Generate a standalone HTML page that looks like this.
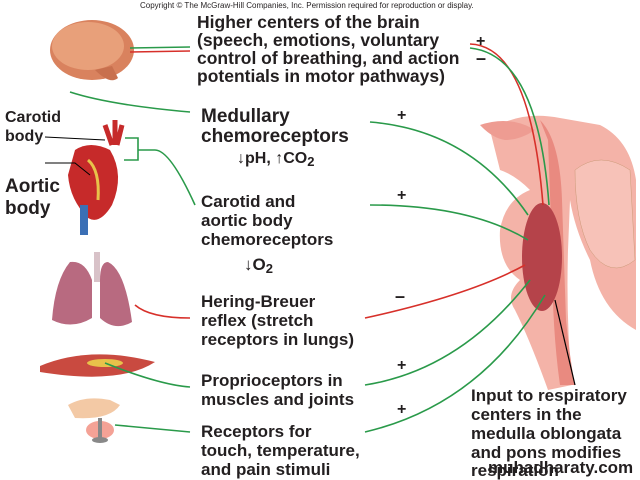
<!DOCTYPE html><html><head><style>body{margin:0;background:#fff}svg{display:block}text{font-family:"Liberation Sans",sans-serif;font-weight:bold;fill:#231f20}</style></head><body>
<svg width="640" height="480" viewBox="0 0 640 480">
<text x="140" y="8" style="font-size:8px;font-weight:normal" fill="#333">Copyright © The McGraw-Hill Companies, Inc. Permission required for reproduction or display.</text>
<path d="M490 130 Q520 110 560 118 L600 125 Q630 140 636 180 L636 330 Q600 310 590 260 Q575 230 570 200 L568 250 Q566 320 572 385 L548 390 Q530 340 515 310 Q505 295 520 280 Q498 265 500 230 Q505 200 530 190 Q515 175 500 170 Z" fill="#f4b3a8"/>
<path d="M540 120 Q560 140 562 200 L566 320 Q570 360 575 385 L560 385 Q552 330 552 250 L548 140 Z" fill="#e98a80"/>
<path d="M575 170 Q600 150 630 170 L635 260 Q610 280 590 250 Q575 220 575 170 Z" fill="#f7c2b8" stroke="#c97" stroke-width="0.5"/>
<path d="M480 125 Q510 115 535 130 Q520 140 505 140 Q492 138 480 125Z" fill="#ee9c92"/>
<ellipse cx="542" cy="257" rx="20" ry="54" fill="#b5434a"/>
<ellipse cx="92" cy="50" rx="42" ry="30" fill="#d9825e"/>
<ellipse cx="88" cy="46" rx="36" ry="24" fill="#e8a07a"/>
<path d="M95 70 Q110 85 118 78 L112 66 Z" fill="#c8704e"/>
<path d="M75 150 Q90 140 110 150 Q125 175 112 205 Q100 225 88 218 Q70 200 68 175 Z" fill="#c62a2a"/>
<path d="M88 160 Q100 170 98 200" stroke="#e8c24a" stroke-width="3" fill="none"/>
<rect x="80" y="205" width="8" height="30" fill="#3b6fb5"/>
<path d="M105 125 L112 145 M115 120 L115 145 M122 125 L117 145" stroke="#c62a2a" stroke-width="5"/>
<path d="M70 262 Q55 280 52 320 Q72 330 92 318 L92 280 Q85 260 70 262Z" fill="#b86a80"/>
<path d="M108 262 Q125 270 132 322 Q115 332 100 318 L100 280 Q100 262 108 262Z" fill="#b86a80"/>
<rect x="94" y="252" width="6" height="30" fill="#d8c2c8"/>
<path d="M40 366 Q90 345 155 362 Q120 385 40 372Z" fill="#c94a40"/>
<ellipse cx="105" cy="363" rx="18" ry="4" fill="#e8c24a"/>
<path d="M68 405 Q85 395 110 400 L120 405 Q110 420 75 418 Z" fill="#f3c9a5"/>
<ellipse cx="100" cy="430" rx="14" ry="9" fill="#f07a6a" opacity="0.7"/>
<rect x="98" y="418" width="4" height="20" fill="#888"/>
<ellipse cx="100" cy="440" rx="8" ry="3" fill="#888"/>
<g fill="none" stroke-width="1.6">
<path d="M130 48 L190 47" stroke="#2a9a4a"/><path d="M130 52 L190 51" stroke="#d7302a"/>
<path d="M470 44 Q530 46 543 205" stroke="#d7302a"/>
<path d="M470 48 Q538 55 549 205" stroke="#2a9a4a"/>
<path d="M70 92 Q110 105 190 112" stroke="#2a9a4a"/>
<path d="M370 122 Q470 130 528 215" stroke="#2a9a4a"/>
<path d="M125 138 L138 138 L138 160 L124 160 M138 150 L155 150 Q170 150 195 205" stroke="#2a9a4a"/>
<path d="M370 205 Q470 205 528 240" stroke="#2a9a4a"/>
<path d="M135 305 Q150 318 190 318" stroke="#d7302a"/>
<path d="M365 318 Q470 295 525 265" stroke="#d7302a"/>
<path d="M105 363 Q160 385 190 387" stroke="#2a9a4a"/>
<path d="M365 385 Q460 370 530 280" stroke="#2a9a4a"/>
<path d="M115 425 L190 432" stroke="#2a9a4a"/>
<path d="M365 432 Q480 405 545 295" stroke="#2a9a4a"/>
<path d="M555 300 L575 385" stroke="#000" stroke-width="1.2"/>
<path d="M45 137 L105 140 M45 163 L75 163 L90 175" stroke="#000" stroke-width="1"/>
</g>
<g style="font-size:17.5px">
<text x="197" y="28">Higher centers of the brain</text>
<text x="197" y="46">(speech, emotions, voluntary</text>
<text x="197" y="64">control of breathing, and action</text>
<text x="197" y="82">potentials in motor pathways)</text>
</g>
<text x="476" y="46" style="font-size:16px">+</text><text x="476" y="64" style="font-size:18px">–</text>
<text x="201" y="122" style="font-size:19px">Medullary</text>
<text x="201" y="142" style="font-size:19px">chemoreceptors</text>
<text x="237" y="163" style="font-size:16px">↓pH, ↑CO<tspan style="font-size:13px" dy="3">2</tspan></text>
<text x="5" y="122" style="font-size:16px">Carotid</text><text x="5" y="141" style="font-size:16px">body</text>
<text x="5" y="192" style="font-size:19px">Aortic</text><text x="5" y="214" style="font-size:19px">body</text>
<g style="font-size:17px">
<text x="201" y="207">Carotid and</text>
<text x="201" y="226">aortic body</text>
<text x="201" y="245">chemoreceptors</text>
<text x="244" y="270">↓O<tspan style="font-size:13px" dy="3">2</tspan></text>
<text x="201" y="307">Hering-Breuer</text>
<text x="201" y="326">reflex (stretch</text>
<text x="201" y="345">receptors in lungs)</text>
<text x="201" y="386">Proprioceptors in</text>
<text x="201" y="405">muscles and joints</text>
<text x="201" y="437">Receptors for</text>
<text x="201" y="456">touch, temperature,</text>
<text x="201" y="475">and pain stimuli</text>
<text x="471" y="401">Input to respiratory</text>
<text x="471" y="420">centers in the</text>
<text x="471" y="439">medulla oblongata</text>
<text x="471" y="458">and pons modifies</text>
<text x="471" y="476" fill="#777">respiration</text>
</g>
<text x="397" y="120" style="font-size:16px">+</text><text x="397" y="200" style="font-size:16px">+</text>
<text x="395" y="302" style="font-size:18px">–</text>
<text x="397" y="370" style="font-size:16px">+</text><text x="397" y="414" style="font-size:16px">+</text>
<text x="488" y="473" style="font-size:17px">muhadharaty.com</text>
</svg></body></html>
